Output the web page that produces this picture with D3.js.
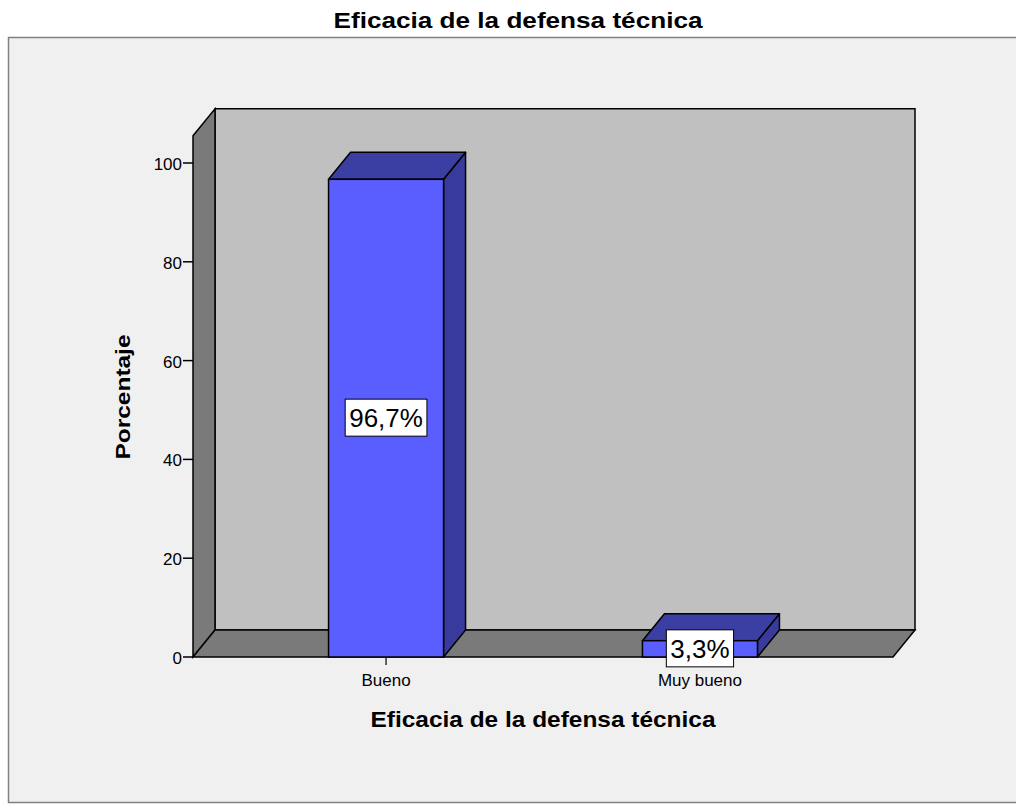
<!DOCTYPE html>
<html><head><meta charset="utf-8">
<script src="https://cdn.jsdelivr.net/npm/d3@7"></script>
<style>body{margin:0;background:#fff;} svg{display:block;font-family:"Liberation Sans",Arial,sans-serif;}</style>
</head><body>
<svg id="chart" width="1016" height="805"></svg>
<script>
const categories = ["Bueno", "Muy bueno"];
const values = [96.7, 3.3];
const valueLabels = ["96,7%", "3,3%"];
const yTicks = [0, 20, 40, 60, 80, 100];
const yWallMax = 105.5;
const title = "Eficacia de la defensa técnica";
const xTitle = "Eficacia de la defensa técnica";
const yTitle = "Porcentaje";

const svg = d3.select("#chart");
const W = 1016, H = 805;
svg.append("rect").attr("width", W).attr("height", H).attr("fill", "#ffffff");
// frame
svg.append("rect").attr("x", 8.5).attr("y", 37.5).attr("width", 1010).attr("height", 765)
  .attr("fill", "#f0f0f0").attr("stroke", "#808080").attr("stroke-width", 1.5);

svg.append("text").attr("x", 518).attr("y", 28).attr("text-anchor", "middle")
  .attr("font-size", 22).attr("font-weight", "bold").attr("fill", "#000")
  .attr("textLength", 369).attr("lengthAdjust", "spacingAndGlyphs").text(title);

const x0 = 193, x1 = 893;
const dx = 22, dy = -27;
const y = d3.scaleLinear().domain([0, 100]).range([657, 163]);
const x = d3.scalePoint().domain(categories).range([x0, x1]).padding(0.615);
const barW = 115;

const g = svg.append("g");
const line = d3.line();
const stroke = "#000";
const sw = 1.5;
// back wall
g.append("path").attr("d", line([[x0+dx, y(yWallMax)+dy],[x1+dx, y(yWallMax)+dy],[x1+dx, y(0)+dy],[x0+dx, y(0)+dy]]) + "Z")
  .attr("fill", "#c0c0c0").attr("stroke", stroke).attr("stroke-width", sw);
// left wall
g.append("path").attr("d", line([[x0, y(yWallMax)],[x0+dx, y(yWallMax)+dy],[x0+dx, y(0)+dy],[x0, y(0)]]) + "Z")
  .attr("fill", "#7a7a7a").attr("stroke", stroke).attr("stroke-width", sw);
// floor
g.append("path").attr("d", line([[x0, y(0)],[x0+dx, y(0)+dy],[x1+dx, y(0)+dy],[x1, y(0)]]) + "Z")
  .attr("fill", "#7a7a7a").attr("stroke", stroke).attr("stroke-width", sw);

// y ticks
yTicks.forEach(t => {
  g.append("line").attr("x1", x0-10).attr("x2", x0).attr("y1", y(t)).attr("y2", y(t))
    .attr("stroke", "#000").attr("stroke-width", 1.5);
  g.append("text").attr("x", x0-11).attr("y", y(t)+7).attr("text-anchor", "end")
    .attr("font-size", 17).attr("fill", "#000").text(t);
});

// bars
categories.forEach((c, i) => {
  const cx = x(c), bx0 = cx - barW/2, bx1 = cx + barW/2;
  const yt = y(values[i]), yb = y(0);
  g.append("path").attr("d", line([[bx1, yt],[bx1+dx, yt+dy],[bx1+dx, yb+dy],[bx1, yb]]) + "Z")
    .attr("fill", "#383b9c").attr("stroke", stroke).attr("stroke-width", sw).attr("stroke-linejoin", "round");
  g.append("path").attr("d", line([[bx0, yt],[bx0+dx, yt+dy],[bx1+dx, yt+dy],[bx1, yt]]) + "Z")
    .attr("fill", "#3b3ea3").attr("stroke", stroke).attr("stroke-width", sw).attr("stroke-linejoin", "round");
  g.append("rect").attr("x", bx0).attr("y", yt).attr("width", barW).attr("height", yb - yt)
    .attr("fill", "#5a5eff").attr("stroke", stroke).attr("stroke-width", sw);
  // category tick and label
  g.append("line").attr("x1", cx).attr("x2", cx).attr("y1", yb).attr("y2", yb+8)
    .attr("stroke", "#000").attr("stroke-width", 1.2);
  g.append("text").attr("x", cx).attr("y", yb+29).attr("text-anchor", "middle")
    .attr("font-size", 17).attr("fill", "#000").text(c);
});

// value labels
categories.forEach((c, i) => {
  const cx = x(c), cy = y(values[i]/2);
  const t = g.append("text").attr("x", cx).attr("y", cy + 9).attr("text-anchor", "middle")
    .attr("font-size", 26).attr("fill", "#000").text(valueLabels[i]);
  const bb = t.node().getBBox();
  g.insert("rect", () => t.node()).attr("x", bb.x - 4).attr("y", cy - 19).attr("width", bb.width + 8).attr("height", 37)
    .attr("fill", "#fff").attr("stroke", "#000").attr("stroke-width", 1);
});

svg.append("text").attr("x", 543).attr("y", 727).attr("text-anchor", "middle")
  .attr("font-size", 22).attr("font-weight", "bold").attr("fill", "#000")
  .attr("textLength", 345).attr("lengthAdjust", "spacingAndGlyphs").text(xTitle);
svg.append("text").attr("transform", "translate(130,397) rotate(-90)").attr("text-anchor", "middle")
  .attr("font-size", 20).attr("font-weight", "bold").attr("fill", "#000")
  .attr("textLength", 125).attr("lengthAdjust", "spacingAndGlyphs").text(yTitle);
</script>
</body></html>
